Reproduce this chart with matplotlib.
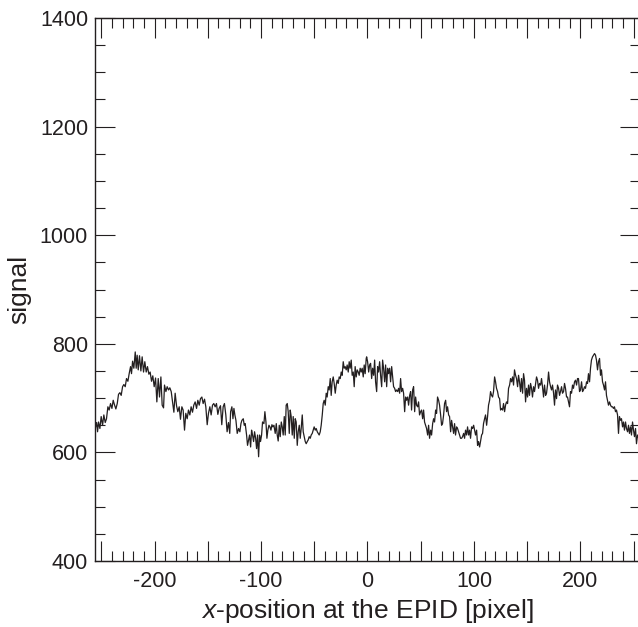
import matplotlib
matplotlib.use('Agg')
import matplotlib.pyplot as plt
from matplotlib.ticker import MultipleLocator, FuncFormatter

# ---- data ----
x_position = [
    -255.8,-254.5,-253.6,-252.7,-251.4,-250.2,-248.9,-247.7,-246.4,-245.2,
    -243.9,-242.7,-241.4,-240.1,-238.9,-237.6,-236.4,-235.1,-233.9,-232.6,
    -231.4,-230.1,-228.9,-227.6,-226.4,-225.1,-223.9,-222.6,-221.7,-220.7,
    -219.5,-218.2,-217.3,-216.4,-215.4,-214.2,-212.9,-211.7,-210.4,-209.2,
    -207.9,-206.7,-205.4,-204.2,-202.9,-201.7,-200.4,-199.1,-197.9,-196.6,
    -195.4,-194.1,-192.9,-191.6,-190.7,-189.4,-188.2,-186.9,-185.7,-184.4,
    -183.2,-181.9,-180.7,-179.4,-178.2,-176.9,-175.7,-174.4,-173.2,-171.9,
    -170.7,-169.4,-168.2,-166.9,-165.7,-164.4,-163.2,-161.9,-160.6,-159.4,
    -158.1,-156.9,-155.6,-154.4,-153.1,-151.9,-150.6,-149.4,-148.1,-146.9,
    -145.6,-144.4,-143.1,-141.9,-140.6,-139.4,-138.1,-136.9,-135.6,-134.4,
    -133.1,-131.9,-130.6,-129.4,
    -128.6,-127.4,-126.4,-125.5,-124.6,-123.6,-122.4,-121.1,-119.9,-118.9,
    -118.0,-116.7,-115.8,-114.9,-113.6,-112.7,-111.7,-110.8,-109.8,-108.9,
    -108.0,-107.0,-106.1,-105.1,-104.2,-103.3,-102.3,-101.4,-100.5,-99.5,
    -98.6,-97.3,-96.4,-95.4,-94.5,-93.6,-92.6,-91.7,-90.7,-89.8,
    -88.9,-87.9,-86.7,-85.7,-84.8,-83.9,-82.9,-82.0,-81.0,-80.1,
    -79.2,-78.2,-77.3,-76.4,-75.4,-74.5,-73.5,-72.6,-71.7,-70.7,
    -69.8,-68.8,-67.9,-67.0,-66.0,-65.1,-64.1,-63.2,-62.3,-61.3,
    -60.4,-59.5,-58.5,-57.6,-56.6,-55.7,-54.8,-53.8,-52.9,-51.9,
    -51.0,-50.1,-49.1,-48.2,-47.2,-46.3,-45.4,-44.4,-43.5,-42.5,
    -41.6,-40.7,-39.7,-38.8,-37.9,-36.9,-36.0,-35.0,-34.1,-33.2,
    -32.2,-31.3,-30.3,-29.4,-28.5,-27.5,-26.6,-25.6,-24.7,-23.8,
    -22.8,-21.9,-21.0,-20.0,-19.1,-18.1,-17.2,-16.3,-15.3,-14.4,
    -13.4,-12.5,-11.6,-10.6,-9.7,-8.7,-7.8,-6.9,-5.9,-5.0,
    -4.0,-3.1,-2.2,-1.2,
    -0.8, 0.1, 1.1, 2.0, 2.9, 3.9, 4.8, 5.8, 6.7, 7.6,
    8.6, 9.5, 10.4, 11.4, 12.3, 13.3, 14.2, 15.1, 16.1, 17.0,
    18.0, 18.9, 19.8, 20.8, 21.7, 22.7, 23.6, 24.5, 25.5, 26.4,
    27.3, 28.3, 29.2, 30.2, 31.1, 32.0, 33.0, 33.9, 34.9, 35.8,
    36.7, 37.7, 38.6, 39.6, 40.5, 41.4, 42.4, 43.3, 44.3, 45.2,
    46.1, 47.1, 48.0, 48.9, 49.9, 50.8, 51.8, 52.7, 53.6, 54.6,
    55.5, 56.5, 57.4, 58.3, 59.3, 60.2, 61.2, 62.1, 63.0, 64.0,
    64.9, 65.8, 66.8, 67.7, 68.7, 69.6, 70.5, 71.5, 72.4, 73.4,
    74.3, 75.2, 76.2, 77.1, 78.1, 79.0, 79.9, 80.9, 81.8, 82.7,
    83.7, 84.6, 85.6, 86.5, 87.4, 88.4, 89.3, 90.3, 91.2, 92.1,
    93.1, 94.0, 95.0, 95.9, 96.8, 97.8, 98.7, 99.7, 100.6, 101.5,
    102.5, 103.4, 104.3, 105.3, 106.2, 107.2, 108.1, 109.0, 110.0, 110.9,
    111.9, 112.8, 113.7, 114.7, 115.6, 116.6, 117.5, 118.4, 119.4, 120.3,
    121.2, 122.2, 123.1, 124.1, 125.0, 125.9,
    126.9, 127.8, 128.8, 129.7, 130.6, 131.6, 132.5, 133.5, 134.4, 135.3,
    136.3, 137.2, 138.1, 139.1, 140.0, 141.0, 141.9, 142.8, 143.8, 144.7,
    145.7, 146.6, 147.5, 148.5, 149.4, 150.4, 151.3, 152.2, 153.2, 154.1,
    155.0, 156.0, 156.9, 157.9, 158.8, 159.7, 160.7, 161.6, 162.6, 163.5,
    164.4, 165.4, 166.3, 167.3, 168.2, 169.1, 170.1, 171.0, 172.0, 172.9,
    173.8, 174.8, 175.7, 176.6, 177.6, 178.5, 179.5, 180.4, 181.3, 182.3,
    183.2, 184.2, 185.1, 186.0, 187.0, 187.9, 188.9, 189.8, 190.7, 191.7,
    192.6, 193.5, 194.5, 195.4, 196.4, 197.3, 198.2, 199.2, 200.1, 201.1,
    202.0, 202.9, 203.9, 204.8, 205.8, 206.7, 207.6, 208.6, 209.5, 210.4,
    211.4, 212.3, 213.3, 214.2, 215.1, 216.1, 217.0, 218.0, 218.9, 219.8,
    220.8, 221.7, 222.7, 223.6, 224.5, 225.5, 226.4, 227.4, 228.3, 229.2,
    230.2, 231.1, 232.0, 233.0, 233.9, 234.9, 235.8, 236.7, 237.7, 238.6,
    239.6, 240.5, 241.4, 242.4, 243.3, 244.3, 245.2, 246.1, 247.1, 248.0,
    249.0, 249.9, 250.8, 251.8, 252.7, 253.7, 255.0,
]

signal = [
    644,655,638,656,644,666,650,669,655,662,
    684,678,690,681,696,687,680,690,707,710,
    705,721,725,721,736,731,745,758,745,768,
    755,785,755,779,752,778,750,776,748,767,
    748,758,744,748,731,741,721,737,693,736,
    702,739,687,682,724,712,721,715,719,712,
    693,674,709,686,675,684,661,684,678,641,
    672,662,678,669,684,674,687,693,681,696,
    687,699,702,690,698,684,651,672,684,669,
    687,690,684,690,670,681,686,651,684,690,
    669,638,655,635,
    675,684,662,681,669,659,635,644,638,653,
    659,662,650,653,632,613,623,632,610,641,
    632,620,638,626,607,632,592,632,620,632,
    656,653,675,656,626,641,650,647,641,651,
    647,650,635,653,632,621,650,629,656,647,
    632,666,632,687,690,675,635,678,666,632,
    666,626,662,656,613,638,650,626,644,669,
    638,629,620,616,620,623,629,626,632,635,
    641,647,641,644,638,635,632,638,650,669,
    690,696,687,709,702,721,715,736,705,730,
    739,727,709,724,733,727,739,736,748,742,
    767,755,758,752,761,748,767,755,770,742,
    748,721,758,739,752,748,742,755,748,755,
    739,761,745,773,
    776, 767, 748, 761, 764, 736, 755, 742, 770, 730,
    712, 758, 748, 767, 742, 721, 770, 755, 730, 761,
    721, 755, 745, 755, 730, 758, 739, 721, 718, 712,
    715, 712, 718, 709, 736, 712, 718, 709, 675, 702,
    696, 702, 687, 705, 712, 678, 715, 721, 675, 702,
    687, 684, 693, 669, 675, 678, 662, 678, 656, 650,
    644, 632, 650, 626, 641, 632, 653, 662, 656, 678,
    672, 702, 696, 687, 669, 650, 653, 669, 690, 696,
    675, 684, 669, 666, 638, 659, 647, 635, 653, 632,
    647, 644, 638, 632, 626, 626, 629, 635, 626, 641,
    632, 647, 632, 641, 626, 647, 644, 650, 641, 632,
    641, 613, 620, 610, 620, 632, 635, 653, 662, 669,
    650, 666, 687, 696, 712, 705, 702, 712, 739, 730,
    718, 712, 702, 699, 678, 681,
    678, 690, 675, 687, 693, 690, 718, 724, 736, 730,
    739, 724, 752, 742, 736, 721, 742, 730, 712, 736,
    709, 745, 733, 693, 718, 702, 724, 705, 727, 718,
    702, 721, 712, 727, 739, 733, 718, 727, 724, 736,
    721, 702, 724, 705, 709, 724, 748, 730, 721, 715,
    724, 709, 687, 715, 699, 724, 718, 705, 712, 721,
    709, 712, 727, 718, 702, 702, 693, 684, 712, 709,
    724, 718, 730, 733, 724, 736, 736, 712, 715, 730,
    712, 715, 721, 718, 730, 727, 745, 730, 755, 770,
    776, 779, 782, 779, 770, 752, 767, 773, 742, 752,
    730, 724, 715, 730, 705, 696, 687, 693, 687, 684,
    684, 681, 684, 675, 678, 669, 635, 666, 659, 662,
    647, 656, 641, 656, 644, 638, 650, 635, 647, 632,
    656, 641, 629, 644, 616, 632, 625,
]

x_limits = (-256, 256)
y_limits = (400, 1400)
x_label = r'$x$-position at the EPID [pixel]'
y_label = 'signal'

# ---- style ----
plt.rcParams['font.family'] = ['Liberation Sans', 'DejaVu Sans']
plt.rcParams['mathtext.fontset'] = 'custom'
plt.rcParams['mathtext.it'] = 'Liberation Sans:italic'
plt.rcParams['mathtext.rm'] = 'Liberation Sans'
plt.rcParams['axes.unicode_minus'] = False

ink = '#231f20'
fig = plt.figure(figsize=(6.38, 6.27), dpi=100)
ax = fig.add_axes([95 / 638, 1 - 561 / 627, 545 / 638, 543 / 627])

ax.plot(x_position, signal, color=ink, lw=0.9)
ax.set_xlim(*x_limits)
ax.set_ylim(*y_limits)

ax.xaxis.set_major_locator(MultipleLocator(50))
ax.xaxis.set_minor_locator(MultipleLocator(10))
ax.xaxis.set_major_formatter(FuncFormatter(lambda v, p: f'{int(round(v))}' if round(v) % 100 == 0 else ''))
ax.yaxis.set_major_locator(MultipleLocator(200))
ax.yaxis.set_minor_locator(MultipleLocator(50))

ax.tick_params(which='both', direction='in', top=True, right=True,
               color=ink, labelcolor=ink, labelsize=15.5, width=0.8)
ax.tick_params(which='major', length=14.4)
ax.tick_params(which='minor', length=7.2)
ax.tick_params(axis='x', which='major', pad=7)
ax.tick_params(axis='y', which='major', pad=5)

for s in ax.spines.values():
    s.set_linewidth(1.0)
    s.set_color(ink)

ax.set_xlabel(x_label, fontsize=19, color=ink, labelpad=4)
ax.set_ylabel(y_label, fontsize=19, color=ink, labelpad=6)

fig.savefig('out.png', dpi=100)
